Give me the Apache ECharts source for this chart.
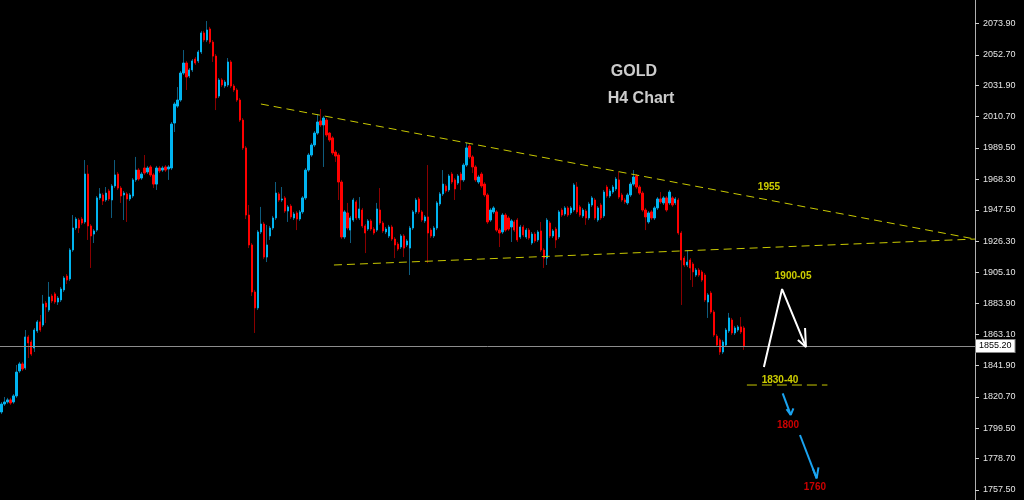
<!DOCTYPE html>
<html><head><meta charset="utf-8">
<script src="https://cdn.jsdelivr.net/npm/echarts@6/dist/echarts.min.js"></script>
<style>html,body{margin:0;padding:0;background:#000;}#c{width:1024px;height:500px;}</style>
</head><body><div id="c"></div>
<script>
// OHLC rows in ECharts order: [open, close, low, high]
const candles = [
[1810.4,1815.8,1809.0,1817.2],[1815.8,1817.2,1814.5,1820.6],[1817.2,1818.6,1816.0,1820.0],[1818.6,1816.5,1815.2,1820.0],
[1817.2,1821.3,1816.0,1822.6],[1821.3,1837.5,1820.0,1842.3],[1838.2,1843.0,1836.8,1844.4],[1843.0,1839.6,1838.2,1844.4],
[1840.3,1861.3,1839.0,1866.0],[1861.3,1857.2,1847.0,1862.6],[1857.9,1849.7,1848.4,1859.3],[1853.8,1866.0,1851.1,1867.4],
[1865.4,1871.5,1864.0,1872.8],[1871.5,1866.0,1864.7,1876.2],[1869.4,1883.7,1868.1,1889.8],[1884.3,1881.6,1870.8,1885.7],
[1879.6,1888.4,1878.2,1898.6],[1889.1,1885.7,1884.3,1890.5],[1890.5,1885.0,1883.7,1891.8],[1885.0,1887.7,1883.0,1889.1],
[1886.4,1893.8,1885.0,1895.2],[1893.2,1901.3,1891.8,1902.6],[1902.6,1899.9,1897.2,1904.0],[1900.6,1920.3,1899.2,1921.6],
[1920.3,1935.2,1919.0,1944.0],[1935.2,1941.3,1933.8,1942.7],[1940.6,1935.2,1931.8,1942.0],[1941.3,1938.6,1937.3,1942.7],
[1939.3,1971.8,1938.0,1981.3],[1971.8,1936.6,1927.1,1977.9],[1936.6,1929.8,1908.1,1937.9],[1931.1,1933.2,1925.0,1934.5],
[1933.8,1955.6,1932.5,1956.9],[1955.6,1958.3,1954.2,1962.3],[1957.6,1953.5,1950.8,1958.9],[1954.2,1958.9,1952.9,1963.0],
[1960.3,1954.9,1953.5,1961.7],[1954.2,1963.7,1942.0,1965.0],[1963.7,1971.2,1962.3,1981.3],[1971.8,1962.3,1961.0,1973.2],
[1962.3,1956.9,1952.2,1963.7],[1957.6,1958.9,1940.6,1960.3],[1958.3,1954.9,1939.3,1959.6],[1954.9,1957.6,1953.5,1958.9],
[1956.9,1967.8,1955.6,1969.1],[1967.8,1974.5,1966.4,1983.4],[1974.5,1968.4,1967.1,1975.9],[1969.1,1971.8,1967.8,1973.2],
[1975.9,1972.5,1971.2,1984.7],[1973.2,1975.9,1971.8,1977.3],[1976.6,1971.2,1969.8,1977.9],[1971.2,1965.0,1962.3,1972.5],
[1965.0,1975.9,1961.0,1977.3],[1975.9,1973.9,1972.5,1977.3],[1974.5,1975.9,1973.2,1977.3],[1976.6,1974.5,1973.2,1977.9],
[1975.2,1976.6,1967.8,1977.9],[1975.9,2005.7,1974.5,2007.1],[2006.4,2019.3,2000.3,2020.6],[2017.9,2022.0,2016.6,2030.8],
[2022.0,2040.3,2020.7,2041.7],[2040.3,2047.1,2039.0,2055.9],[2047.1,2037.6,2028.8,2048.5],[2038.3,2042.4,2036.9,2043.7],
[2042.4,2048.5,2041.0,2049.8],[2049.8,2047.1,2045.8,2051.2],[2048.5,2054.6,2047.1,2055.9],[2054.6,2067.5,2053.2,2068.9],
[2067.5,2062.7,2061.3,2068.9],[2062.7,2069.5,2061.3,2075.6],[2070.2,2061.3,2060.0,2071.6],[2061.3,2051.8,2047.8,2062.7],
[2051.8,2023.4,2015.2,2053.2],[2024.7,2035.6,2023.4,2036.9],[2035.6,2032.2,2030.8,2036.9],[2031.5,2034.2,2030.1,2035.6],
[2032.2,2047.8,2030.8,2050.5],[2047.8,2031.5,2030.1,2049.1],[2031.5,2028.8,2027.4,2032.9],[2028.8,2022.0,2020.7,2030.1],
[2022.0,2008.4,2007.1,2023.4],[2008.4,1989.5,1988.1,2009.8],[1989.5,1944.0,1941.3,1990.8],[1944.0,1923.7,1921.6,1950.8],
[1923.7,1891.8,1889.1,1925.0],[1891.8,1881.0,1864.0,1893.2],[1881.0,1932.5,1879.6,1933.8],[1932.5,1937.9,1931.1,1949.5],
[1937.9,1915.5,1914.1,1939.3],[1915.5,1923.7,1912.1,1937.3],[1929.8,1935.2,1927.1,1936.6],[1935.2,1942.0,1933.8,1943.4],
[1942.0,1958.9,1940.6,1966.4],[1958.3,1954.2,1952.9,1959.6],[1954.2,1954.9,1952.9,1963.0],[1955.6,1946.7,1945.4,1956.9],
[1946.7,1949.5,1939.3,1950.8],[1950.1,1942.7,1941.3,1951.5],[1942.0,1944.7,1940.6,1946.1],[1945.4,1941.3,1933.8,1946.7],
[1941.3,1946.1,1940.0,1947.4],[1946.1,1955.6,1944.7,1956.9],[1955.6,1974.5,1954.2,1975.9],[1974.5,1984.7,1973.2,1986.1],
[1984.7,1991.5,1983.4,1992.9],[1991.5,1999.6,1990.1,2001.0],[1999.6,2007.1,1998.3,2012.5],[2007.8,2005.1,2003.7,2015.9],
[2005.1,2009.8,1976.6,2011.1],[2008.4,1998.3,1996.9,2009.8],[1999.6,1994.9,1993.5,2000.3],[1996.3,1986.1,1984.7,1997.6],
[1986.7,1984.0,1980.0,1988.1],[1984.7,1966.4,1954.2,1986.1],[1966.4,1929.1,1927.7,1967.8],[1929.1,1946.1,1927.7,1947.4],
[1945.4,1935.2,1933.8,1952.2],[1933.8,1942.0,1925.0,1943.4],[1940.6,1954.2,1939.3,1955.6],[1952.9,1942.0,1940.6,1954.2],
[1942.0,1948.1,1940.6,1956.2],[1947.4,1936.6,1935.2,1948.8],[1936.6,1931.8,1918.2,1937.9],[1934.5,1940.0,1933.2,1941.3],
[1940.0,1934.5,1933.2,1941.3],[1934.5,1931.8,1930.5,1935.9],[1933.8,1948.1,1932.5,1952.2],[1947.4,1938.6,1937.3,1962.3],
[1938.6,1933.2,1931.8,1939.9],[1932.5,1934.5,1931.1,1935.9],[1929.8,1935.9,1928.4,1937.3],[1935.9,1927.7,1926.4,1937.3],
[1927.7,1923.7,1914.8,1929.1],[1924.3,1920.9,1919.6,1925.7],[1922.3,1929.8,1921.0,1931.1],[1929.8,1921.6,1915.5,1931.1],
[1923.7,1926.4,1922.3,1927.7],[1921.6,1935.2,1903.3,1936.6],[1935.2,1946.1,1933.8,1947.4],[1946.1,1954.2,1944.7,1955.6],
[1954.9,1946.1,1944.7,1956.2],[1946.1,1940.6,1939.3,1947.4],[1940.0,1942.7,1938.6,1944.0],[1942.7,1931.8,1911.4,1977.9],
[1933.8,1929.8,1928.4,1935.2],[1929.8,1935.2,1928.4,1936.6],[1935.2,1952.2,1933.8,1953.5],[1951.5,1958.3,1950.1,1959.6],
[1958.3,1965.0,1956.9,1974.5],[1963.7,1960.3,1959.0,1965.0],[1961.0,1970.5,1959.6,1971.8],[1971.8,1966.4,1965.0,1973.2],
[1967.8,1961.7,1954.2,1969.1],[1965.7,1970.5,1964.4,1971.8],[1971.8,1967.8,1961.0,1973.2],[1967.8,1977.9,1966.4,1979.3],
[1977.9,1989.5,1976.6,1992.9],[1990.8,1983.4,1982.0,1992.2],[1983.4,1976.6,1972.5,1984.7],[1976.6,1967.8,1966.4,1977.9],
[1966.4,1969.8,1965.0,1971.2],[1971.8,1963.7,1962.3,1973.2],[1965.0,1957.6,1956.2,1966.4],[1957.6,1939.3,1937.9,1958.9],
[1940.6,1947.4,1939.3,1948.8],[1946.1,1948.8,1944.7,1950.1],[1946.1,1933.8,1932.5,1947.4],[1933.8,1931.8,1922.3,1935.2],
[1932.5,1944.0,1931.1,1945.4],[1944.0,1933.8,1932.5,1945.4],[1942.0,1934.5,1933.2,1943.4],[1935.9,1940.0,1925.7,1941.3],
[1939.3,1933.8,1932.5,1940.6],[1940.6,1927.1,1925.7,1942.0],[1929.1,1935.9,1927.7,1937.3],[1935.9,1930.5,1929.1,1937.3],
[1929.1,1933.8,1927.7,1935.2],[1933.8,1928.4,1927.1,1935.2],[1925.0,1931.1,1923.7,1932.5],[1931.1,1926.4,1925.0,1932.5],
[1927.1,1932.5,1925.7,1933.8],[1933.2,1920.3,1918.9,1939.3],[1920.3,1914.8,1908.1,1921.6],[1914.8,1940.6,1910.1,1942.0],
[1938.6,1929.8,1928.4,1939.9],[1929.8,1933.2,1928.4,1934.5],[1934.5,1927.1,1921.6,1935.9],[1929.1,1946.1,1927.7,1947.4],
[1947.4,1944.0,1942.7,1948.8],[1944.7,1948.8,1943.4,1950.1],[1948.8,1944.0,1942.7,1950.1],[1945.4,1948.8,1944.0,1950.1],
[1947.4,1964.4,1946.1,1965.7],[1963.0,1946.1,1944.7,1966.4],[1949.5,1944.0,1942.7,1950.8],[1943.4,1947.4,1942.0,1948.8],
[1946.7,1942.0,1937.3,1948.1],[1942.0,1951.5,1940.6,1952.9],[1950.8,1955.6,1949.5,1956.9],[1954.2,1942.0,1940.6,1955.6],
[1940.6,1948.8,1939.3,1950.1],[1950.8,1942.0,1940.6,1952.2],[1943.4,1959.6,1942.0,1961.0],[1963.0,1956.9,1955.6,1964.4],
[1956.9,1960.3,1955.6,1961.7],[1959.6,1963.0,1958.3,1964.4],[1961.7,1968.4,1960.3,1969.8],[1967.8,1956.2,1954.9,1973.2],
[1957.6,1954.2,1952.9,1959.0],[1954.2,1952.9,1951.5,1955.6],[1952.2,1957.6,1950.8,1959.0],[1957.6,1965.0,1956.2,1966.4],
[1965.0,1969.8,1963.7,1974.5],[1970.5,1963.0,1961.7,1971.8],[1963.0,1958.9,1957.6,1964.4],[1958.9,1947.4,1946.1,1960.3],
[1947.4,1942.7,1933.8,1948.8],[1939.3,1945.4,1938.0,1946.7],[1946.1,1942.0,1940.6,1947.4],[1942.0,1948.8,1940.6,1950.1],
[1948.8,1954.9,1947.4,1956.2],[1954.9,1952.9,1951.5,1959.6],[1952.2,1955.6,1950.8,1956.9],[1955.6,1947.4,1946.1,1956.9],
[1952.2,1959.6,1950.8,1961.0],[1955.6,1950.8,1949.5,1956.9],[1952.2,1954.9,1950.8,1956.2],[1954.2,1931.8,1930.5,1955.6],
[1931.8,1913.5,1883.0,1933.2],[1914.8,1910.1,1908.7,1916.2],[1910.1,1912.1,1908.7,1920.3],[1913.5,1908.1,1899.9,1914.8],
[1910.8,1905.4,1895.2,1912.1],[1903.3,1906.7,1902.0,1908.1],[1906.7,1903.3,1902.0,1908.1],[1905.4,1899.9,1898.6,1906.7],
[1903.3,1886.4,1885.0,1904.7],[1885.0,1889.8,1874.2,1891.1],[1891.1,1878.2,1876.9,1892.5],[1878.2,1862.6,1861.3,1879.6],
[1861.9,1855.8,1854.5,1863.3],[1859.3,1851.1,1849.1,1860.6],[1851.1,1857.9,1849.7,1859.3],[1855.8,1866.0,1854.5,1867.4],
[1865.4,1874.2,1864.0,1877.6],[1872.8,1864.0,1862.6,1874.2],[1864.0,1867.4,1862.6,1868.8],[1866.0,1868.1,1864.7,1869.4],
[1868.1,1864.7,1863.3,1874.8],[1867.4,1855.2,1852.5,1868.8]
];
const slotCount = 327;               // chart slots incl. empty space on the right
const categories = Array.from({length: slotCount}, (_, i) => 'H4 #' + (i + 1));
const yTickLabels = [2073.90, 2052.70, 2031.90, 2010.70, 1989.50, 1968.30, 1947.50, 1926.30,
                     1905.10, 1883.90, 1863.10, 1841.90, 1820.70, 1799.50, 1778.70, 1757.50];
const lastPrice = 1855.20;

// annotation geometry in data space: [bar index, price]
const upperTrend = [[87, 2019.3], [326.5, 1927.7]];
const lowerTrend = [[111.5, 1910.1], [326.5, 1927.7]];
const supportZone = [[250, 1828.7], [277, 1828.7]];
const whiteArrow = [[255.7, 1840.9], [261.8, 1893.8], [269.8, 1854.5]];
const whiteHead = [[267.1, 1859.3], [269.8, 1854.5], [269.5, 1867.4]];
const blueArrow1 = [[262.0, 1823.1], [264.7, 1808.4]];
const blueHead1 = [[263.3, 1812.3], [264.7, 1808.4], [265.6, 1812.9]];
const blueArrow2 = [[267.8, 1794.8], [273.4, 1765.4]];
const blueHead2 = [[272.1, 1772.2], [273.4, 1765.4], [274.0, 1772.9]];
const notes = [
  ['GOLD', 212.1, 2041.0, 'title'],
  ['H4 Chart', 214.5, 2022.7, 'title'],
  ['1955', 257.4, 1963.0, 'yellow'],
  ['1900-05', 265.5, 1902.6, 'yellow'],
  ['1830-40', 261.1, 1832.1, 'yellow'],
  ['1800', 263.8, 1801.6, 'red'],
  ['1760', 272.8, 1759.5, 'red']
];

const noteStyle = {
  title: {color: '#ffffff', fontSize: 16},
  yellow: {color: '#ffff00', fontSize: 10},
  red: {color: '#ff0000', fontSize: 10}
};

const bodies = candles.map(r => [r[0], r[1], Math.min(r[0], r[1]), Math.max(r[0], r[1])]);

function poly(data, color, width, dash) {
  return {
    type: 'line', xAxisIndex: 1, yAxisIndex: 0, data: data, symbol: 'none', silent: true,
    lineStyle: {color: color, width: width, type: dash || 'solid'}, z: 5
  };
}

const chart = echarts.init(document.getElementById('c'), null, {renderer: 'canvas'});
chart.setOption({
  animation: false,
  backgroundColor: '#000000',
  grid: {left: 0, right: 49, top: 0, bottom: 0},
  xAxis: [
    {type: 'category', data: categories, boundaryGap: true, show: false},
    {type: 'value', min: -0.5, max: slotCount - 0.5, show: false}
  ],
  yAxis: {
    type: 'value', position: 'right', min: 1750.72, max: 2089.84,
    splitLine: {show: false},
    axisLine: {show: true, onZero: false, lineStyle: {color: '#b0b0b0', width: 1}},
    axisTick: {show: true, length: 4, customValues: yTickLabels, lineStyle: {color: '#d0d0d0'}},
    axisLabel: {
      show: true, customValues: yTickLabels, margin: 8, color: '#e6e6e6',
      fontFamily: 'Liberation Sans', fontSize: 9,
      formatter: v => Number(v).toFixed(2)
    }
  },
  series: [
    {
      name: 'wicks', type: 'candlestick', data: candles, barWidth: 1, silent: true,
      itemStyle: {color: '#0e5c7e', color0: '#8a0000', borderColor: '#0e5c7e', borderColor0: '#8a0000', borderWidth: 1},
      z: 2
    },
    {
      name: 'bodies', type: 'candlestick', data: bodies, barWidth: 1.8, silent: true,
      itemStyle: {color: '#00b4f0', color0: '#ff0000', borderColor: '#00b4f0', borderColor0: '#ff0000', borderWidth: 1},
      z: 3,
      markLine: {
        silent: true, symbol: 'none',
        lineStyle: {color: '#8c8c8c', width: 1, type: 'solid'},
        label: {
          show: true, position: 'end', distance: 1, formatter: lastPrice.toFixed(2),
          backgroundColor: '#ffffff', color: '#000000', fontSize: 9, fontFamily: 'Liberation Sans',
          padding: [2, 3, 1, 3], borderColor: '#888', borderWidth: 1
        },
        data: [{yAxis: lastPrice}]
      }
    },
    poly(upperTrend, '#c8c800', 1, [8, 5]),
    poly(lowerTrend, '#c8c800', 1, [8, 5]),
    poly(supportZone, '#c8c800', 1, [10, 5]),
    poly(whiteArrow, '#ffffff', 2),
    poly(whiteHead, '#ffffff', 2),
    poly(blueArrow1, '#1aa3f0', 2),
    poly(blueHead1, '#1aa3f0', 2),
    poly(blueArrow2, '#1aa3f0', 2),
    poly(blueHead2, '#1aa3f0', 2),
    {
      type: 'scatter', xAxisIndex: 1, yAxisIndex: 0, symbolSize: 0, silent: true, z: 6,
      data: notes.map(n => ({
        value: [n[1], n[2]],
        label: {
          show: true, position: 'inside', formatter: n[0],
          color: noteStyle[n[3]].color, fontSize: noteStyle[n[3]].fontSize,
          fontWeight: 'bold', fontFamily: 'Liberation Sans'
        }
      }))
    }
  ]
});
</script>
</body></html>
